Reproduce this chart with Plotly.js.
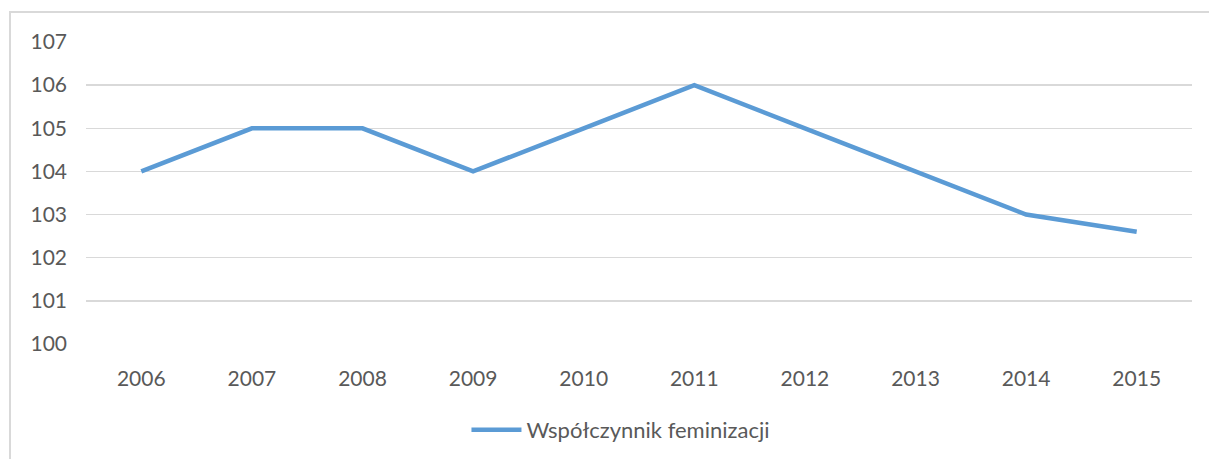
<!DOCTYPE html>
<html>
<head>
<meta charset="utf-8">
<script src="https://cdn.plot.ly/plotly-3.0.1.min.js"></script>
<style>
html,body{margin:0;padding:0;background:#fff;}
#chart{width:1209px;height:459px;}
</style>
</head>
<body>
<div id="chart"></div>
<script>
const years = ['2006','2007','2008','2009','2010','2011','2012','2013','2014','2015'];
const feminizationRatio = [104, 105, 105, 104, 105, 106, 105, 104, 103, 102.6];
const seriesName = 'Współczynnik feminizacji';
const yTicks = [100, 101, 102, 103, 104, 105, 106, 107];

const fontFam = 'Lato, "Open Sans", sans-serif';
const trace = {
  type: 'scatter',
  mode: 'lines',
  x: years,
  y: feminizationRatio,
  name: seriesName,
  line: {color: '#5B9BD5', width: 4.5},
  showlegend: true
};

const layout = {
  width: 1209,
  height: 459,
  margin: {l: 86, r: 17, t: 42, b: 115, autoexpand: false},
  paper_bgcolor: '#ffffff',
  plot_bgcolor: '#ffffff',
  font: {family: fontFam, size: 21, color: '#595959'},
  xaxis: {
    type: 'category',
    range: [-0.5, 9.5],
    showgrid: false,
    zeroline: false,
    showline: false,
    ticks: '',
    automargin: false,
    ticklabelstandoff: 20,
    tickfont: {family: fontFam, size: 21, color: '#595959'},
    fixedrange: true
  },
  yaxis: {
    range: [100, 107],
    tickvals: yTicks,
    ticktext: yTicks.map(String),
    showgrid: true,
    gridcolor: '#d9d9d9',
    gridwidth: 1.3,
    zeroline: false,
    showline: false,
    ticks: '',
    automargin: false,
    ticklabelstandoff: 18,
    tickfont: {family: fontFam, size: 21, color: '#595959'},
    fixedrange: true
  },
  showlegend: true,
  legend: {
    orientation: 'h',
    x: 0.344,
    xanchor: 'left',
    y: -0.285,
    yanchor: 'middle',
    itemwidth: 50,
    font: {family: fontFam, size: 22, color: '#595959'},
    bgcolor: 'rgba(0,0,0,0)'
  },
  shapes: [{
    type: 'rect',
    xref: 'paper', yref: 'paper',
    x0: (10 - 86) / 1106, x1: 1.2,
    y0: -0.5, y1: 1 + (42 - 12) / 302,
    line: {color: '#d9d9d9', width: 2},
    fillcolor: 'rgba(0,0,0,0)',
    layer: 'below'
  }]
};

Plotly.newPlot('chart', [trace], layout, {displayModeBar: false, staticPlot: true});
</script>
</body>
</html>
